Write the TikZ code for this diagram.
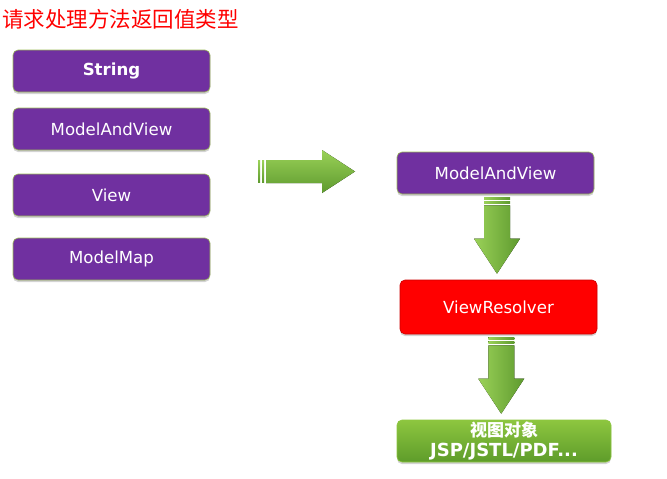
\documentclass[tikz,border=0pt]{standalone}
\usepackage{fontspec}
\setmainfont{DejaVu Sans}
\newfontfamily\cjk{Noto Sans CJK SC}
\usetikzlibrary{shadows,calc}
\definecolor{boxpurple}{HTML}{7030A0}
\definecolor{boxedge}{HTML}{9BBB59}
\definecolor{arrlight}{HTML}{9AD158}
\definecolor{arrdark}{HTML}{5E9A2E}
\definecolor{greentop}{HTML}{8DC63F}
\definecolor{greenbot}{HTML}{5E9C2A}
\tikzset{
  box/.style={rounded corners=5pt, minimum width=197pt, minimum height=42pt,
    text=white, font=\fontsize{16.6}{19}\selectfont, inner sep=0pt,
    drop shadow={opacity=0.35, shadow xshift=0pt, shadow yshift=-2pt}},
  pbox/.style={box, fill=boxpurple, draw=boxedge, line width=0.6pt},
  rbox/.style={box, fill=red, draw=red!80!black, line width=0.6pt},
  gbox/.style={box, top color=greentop, bottom color=greenbot, draw=greentop, line width=0.6pt},
  fatv/.style={left color=arrlight, right color=arrdark, draw=none},
  fath/.style={top color=arrlight, bottom color=arrdark, draw=none},
}
\begin{document}
\begin{tikzpicture}[x=1pt,y=-1pt]
\useasboundingbox (0,0) rectangle (667,479);
\node[anchor=west, text=red, inner sep=0pt, font=\cjk\fontsize{21.5}{24}\selectfont] (title) at (2,19) {请求处理方法返回值类型};

\node[pbox, font=\bfseries\fontsize{16.6}{19}\selectfont] (s) at (111.5,71) {String};
\node[pbox] (mav) at (111.5,129) {ModelAndView};
\node[pbox] (v) at (111.5,195) {View};
\node[pbox] (mm) at (111.5,259) {ModelMap};

\node[pbox] (mav2) at (495.5,173) {ModelAndView};
\node[rbox, minimum height=54pt] (vr) at (498.5,307) {ViewResolver};
\node[gbox, minimum width=214pt, align=center, font=\bfseries\fontsize{18}{20}\selectfont] (vo) at (504,441) {{\cjk\fontsize{17}{20}\selectfont 视图对象}\\JSP/JSTL/PDF...};

% horizontal arrow
\coordinate (ha) at (258,171.5);
\fill[fath] ($(ha)+(0,-11)$) rectangle ($(ha)+(2,11)$);
\fill[fath] ($(ha)+(4,-11)$) rectangle ($(ha)+(6,11)$);
\fill[fath] ($(ha)+(8,-11.5)$) -- ($(ha)+(64,-11.5)$) -- ($(ha)+(64,-21.5)$) -- ($(ha)+(97,0)$)
  -- ($(ha)+(64,21.5)$) -- ($(ha)+(64,11.5)$) -- ($(ha)+(8,11.5)$) -- cycle;

% vertical arrows
\foreach \a/\b in {mav2/vr, vr/vo}{
  \coordinate (t) at ($(\a.south)!0.5!(\b.north)$);
  \path let \p1=(\a.south), \p2=(\b.north), \p3=(t) in
    coordinate (top) at (\x3,\y1-3pt) coordinate (bot) at (\x3,\y2+6pt);
  \fill[fatv] ($(top)+(-13,0)$) rectangle ($(top)+(13,2)$);
  \fill[fatv] ($(top)+(-13,4)$) rectangle ($(top)+(13,6)$);
  \fill[fatv] ($(top)+(-13,8)$) -- ($(top)+(13,8)$) -- ($(bot)+(13,-35)$) -- ($(bot)+(23,-35)$)
    -- (bot) -- ($(bot)+(-23,-35)$) -- ($(bot)+(-13,-35)$) -- cycle;
}
\end{tikzpicture}
\end{document}
